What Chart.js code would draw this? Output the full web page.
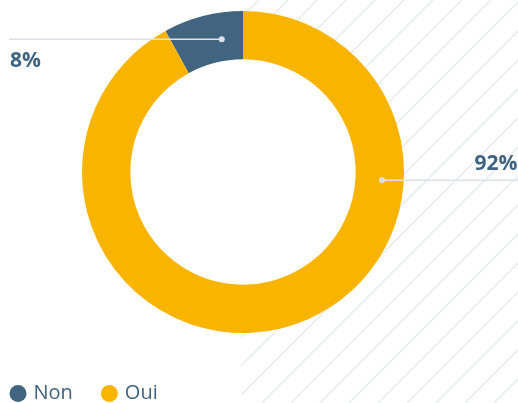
<!DOCTYPE html>
<html>
<head>
<meta charset="utf-8">
<script src="https://cdn.jsdelivr.net/npm/chart.js@4/dist/chart.umd.min.js"></script>
<style>
  html, body { margin: 0; padding: 0; background: #fff; }
  canvas { display: block; }
</style>
</head>
<body>
<canvas id="c" width="518" height="403"></canvas>
<script>
const categories = ['Non', 'Oui'];
const shares = [8, 92];
const sliceColors = ['#416580', '#f9b400'];

const TEXT = '#3f6382';
const GUIDE = '#dde1e7';
const HATCH = '#e7e9ee';
const FONT = '"Open Sans", sans-serif';

// leader lines: start point as a fraction along each arc and across the ring,
// and the edge they run to
const leaderAt = [0.684, 0.282];
const leaderDepth = [0.45, 0.55];
const leaderSide = ['left', 'right'];

// diagonal stripes on the right half, kept out of the doughnut hole
const hatchBackdrop = {
  id: 'hatchBackdrop',
  beforeDatasetsDraw(chart) {
    const { ctx, width, height } = chart;
    const arc = chart.getDatasetMeta(0).data[0];
    const left = arc.x - 2;
    ctx.save();
    ctx.beginPath();
    ctx.rect(left, 0, width - left, height);
    ctx.clip();
    ctx.strokeStyle = HATCH;
    ctx.lineWidth = 1.4;
    ctx.beginPath();
    for (let c = 27; c < width + height + 29; c += 29) {
      ctx.moveTo(c, 0);
      ctx.lineTo(c - height, height);
    }
    ctx.stroke();
    ctx.fillStyle = '#fff';
    ctx.beginPath();
    ctx.arc(arc.x, arc.y, arc.innerRadius, 0, Math.PI * 2);
    ctx.fill();
    ctx.restore();
  }
};

// percentage callouts with horizontal leader lines
const sliceCallouts = {
  id: 'sliceCallouts',
  afterDatasetsDraw(chart) {
    const { ctx, width } = chart;
    const meta = chart.getDatasetMeta(0);
    ctx.save();
    meta.data.forEach((arc, i) => {
      const p = arc.getProps(['x', 'y', 'startAngle', 'endAngle', 'innerRadius', 'outerRadius'], true);
      const a = p.startAngle + leaderAt[i] * (p.endAngle - p.startAngle);
      const r = p.innerRadius + leaderDepth[i] * (p.outerRadius - p.innerRadius);
      const px = p.x + r * Math.cos(a);
      const py = p.y + r * Math.sin(a);
      const toLeft = leaderSide[i] === 'left';
      const ex = toLeft ? 9 : width;

      ctx.strokeStyle = GUIDE;
      ctx.lineWidth = 1.6;
      ctx.beginPath();
      ctx.moveTo(px, py);
      ctx.lineTo(ex, py);
      ctx.stroke();

      ctx.fillStyle = GUIDE;
      ctx.beginPath();
      ctx.arc(px, py, 3, 0, Math.PI * 2);
      ctx.fill();

      ctx.fillStyle = TEXT;
      ctx.font = 'bold 21px ' + FONT;
      ctx.textBaseline = 'alphabetic';
      const label = shares[i] + '%';
      if (toLeft) {
        ctx.textAlign = 'left';
        ctx.fillText(label, 10, py + 28);
      } else {
        ctx.textAlign = 'right';
        ctx.fillText(label, width - 0.5, py - 10.7);
      }
    });
    ctx.restore();
  }
};

// legend row along the bottom edge
const bottomLegend = {
  id: 'bottomLegend',
  afterDraw(chart) {
    const { ctx } = chart;
    const ds = chart.data.datasets[0];
    let x = 9.5;
    const cy = 393.5;
    const rad = 8.5;
    ctx.save();
    ctx.font = '20px ' + FONT;
    ctx.textBaseline = 'middle';
    ctx.textAlign = 'left';
    chart.data.labels.forEach((lab, i) => {
      ctx.fillStyle = ds.backgroundColor[i];
      ctx.beginPath();
      ctx.arc(x + rad, cy, rad, 0, Math.PI * 2);
      ctx.fill();
      const tx = x + rad * 2 + 7;
      ctx.fillStyle = TEXT;
      ctx.fillText(lab, tx, cy);
      x = tx + ctx.measureText(lab).width + 28;
    });
    ctx.restore();
  }
};

new Chart(document.getElementById('c'), {
  type: 'doughnut',
  data: {
    labels: categories,
    datasets: [{
      data: shares,
      backgroundColor: sliceColors,
      borderWidth: 0
    }]
  },
  options: {
    responsive: false,
    animation: false,
    cutout: '70%',
    rotation: -shares[0] / 100 * 360,
    layout: { padding: { left: 82, right: 114, top: 11, bottom: 70 } },
    events: [],
    plugins: {
      legend: { display: false },
      tooltip: { enabled: false }
    }
  },
  plugins: [hatchBackdrop, sliceCallouts, bottomLegend]
});
</script>
</body>
</html>
